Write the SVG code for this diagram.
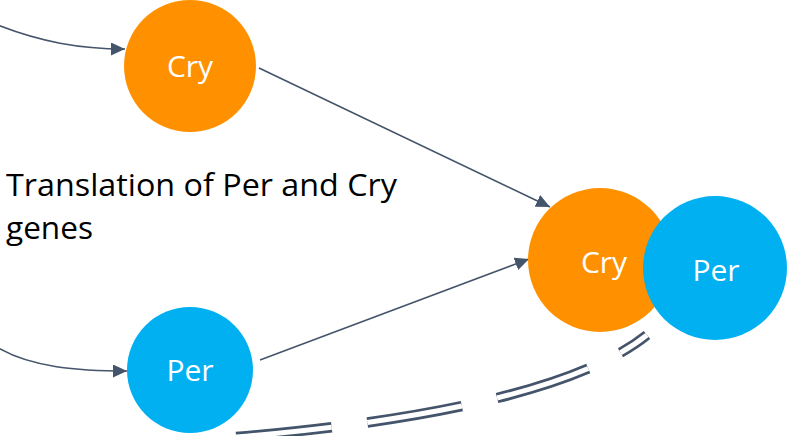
<svg xmlns="http://www.w3.org/2000/svg" width="790" height="436" viewBox="0 0 790 436">
<style>
.conn{fill:none;stroke:#44546A;stroke-width:1.6}
.lbl{font-family:"Open Sans","Noto Sans",sans-serif;font-size:30px;fill:#FFFFFF;text-anchor:middle}
.cap{font-family:"Open Sans","Noto Sans",sans-serif;font-size:31px;fill:#000000}
.orange{fill:#FF9100}
.blue{fill:#00B0F0}
</style>
<defs>
<marker id="arr" markerUnits="userSpaceOnUse" markerWidth="15" markerHeight="13" refX="14" refY="6.5" orient="auto">
<path d="M0,0 L14,6.5 L0,13 z" fill="#44546A"/>
</marker>
</defs>
<rect width="790" height="436" fill="#FFFFFF"/>
<g id="connectors">
<path class="conn" d="M-5,24 C40,42 80,49 125,49" marker-end="url(#arr)"/>
<path class="conn" d="M-5,346 C30,368 80,371 127,371" marker-end="url(#arr)"/>
<path class="conn" d="M259,68 L550,207" marker-end="url(#arr)"/>
<path class="conn" d="M260,360 L529,259" marker-end="url(#arr)"/>
<g id="double-dashed">
<path d="M647,335 Q548,414 200,440" fill="none" stroke="#44546A" stroke-width="10.5" stroke-dasharray="96 36" stroke-dashoffset="64"/>
<path d="M647,335 Q548,414 200,440" fill="none" stroke="#FFFFFF" stroke-width="5" stroke-dasharray="96 36" stroke-dashoffset="64"/>
</g>
</g>
<g id="cry-top">
<circle class="orange" cx="190" cy="66" r="66"/>
<text class="lbl" x="190" y="77">Cry</text>
</g>
<g id="per-bottom">
<circle class="blue" cx="190" cy="370" r="63"/>
<text class="lbl" x="190" y="381">Per</text>
</g>
<g id="cry-complex">
<circle class="orange" cx="600" cy="260" r="72"/>
<text class="lbl" x="604" y="273">Cry</text>
</g>
<g id="per-complex">
<circle class="blue" cx="715" cy="268" r="72"/>
<text class="lbl" x="716" y="281">Per</text>
</g>
<g id="caption">
<text class="cap" x="6" y="196" textLength="391" lengthAdjust="spacingAndGlyphs">Translation of Per and Cry</text>
<text class="cap" x="6" y="239" textLength="87" lengthAdjust="spacingAndGlyphs">genes</text>
</g>
</svg>
